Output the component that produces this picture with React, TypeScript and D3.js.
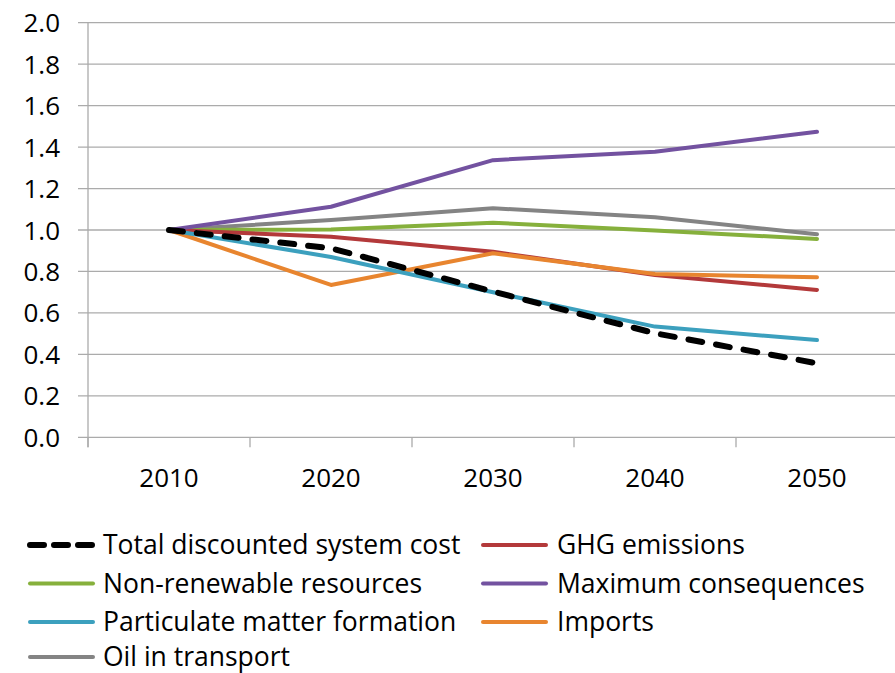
import React, { useEffect, useRef } from "react";
import * as d3 from "d3";

const years = ["2010", "2020", "2030", "2040", "2050"];
const yTicks = [0, 0.2, 0.4, 0.6, 0.8, 1.0, 1.2, 1.4, 1.6, 1.8, 2.0];

const totalCost = [1.0, 0.912, 0.703, 0.502, 0.357];
const ghg = [1.0, 0.968, 0.895, 0.783, 0.711];
const nonRenewable = [1.0, 1.003, 1.035, 0.997, 0.957];
const maxConsequences = [1.0, 1.112, 1.337, 1.378, 1.474];
const particulate = [1.0, 0.87, 0.7, 0.534, 0.469];
const imports = [1.0, 0.735, 0.888, 0.788, 0.772];
const oilTransport = [1.0, 1.048, 1.105, 1.061, 0.979];

const seriesNames = [
  "Total discounted system cost",
  "GHG emissions",
  "Non-renewable resources",
  "Maximum consequences",
  "Particulate matter formation",
  "Imports",
  "Oil in transport",
];
const seriesValues = [totalCost, ghg, nonRenewable, maxConsequences, particulate, imports, oilTransport];
const seriesColors = ["#000000", "#B3393A", "#86B03C", "#7352A0", "#3CA0BE", "#E8852F", "#848484"];

const W = 895;
const H = 673;

export default function App() {
  const ref = useRef<SVGSVGElement | null>(null);

  useEffect(() => {
    const svg = d3.select(ref.current);
    svg.selectAll("*").remove();
    const font = "'Open Sans', 'Noto Sans', sans-serif";

    const left = 88;
    const step = 162;
    const x = d3.scaleBand<string>().domain(years).range([left, left + step * years.length]).paddingInner(0).paddingOuter(0);
    const y = d3.scaleLinear().domain([0, 2]).range([437.3, 22.7]);

    const grid = svg.append("g");
    grid.selectAll("line.h").data(yTicks).join("line")
      .attr("x1", left - 10).attr("x2", W)
      .attr("y1", (d) => y(d)).attr("y2", (d) => y(d))
      .attr("stroke", "#ABABAB").attr("stroke-width", 1.3);
    grid.append("line")
      .attr("x1", left).attr("x2", left)
      .attr("y1", y(2)).attr("y2", y(0) + 10)
      .attr("stroke", "#ABABAB").attr("stroke-width", 1.3);
    const bounds = years.map((d) => x(d) as number).concat([left + step * years.length]);
    grid.selectAll("line.xt").data(bounds).join("line")
      .attr("x1", (d) => d).attr("x2", (d) => d)
      .attr("y1", y(0)).attr("y2", y(0) + 10)
      .attr("stroke", "#ABABAB").attr("stroke-width", 1.3);

    svg.append("g").selectAll("text").data(yTicks).join("text")
      .attr("x", 60).attr("y", (d) => y(d) + 9.5)
      .attr("text-anchor", "end")
      .attr("font-family", font).attr("font-size", 26).attr("fill", "#000")
      .text((d) => d.toFixed(1));

    svg.append("g").selectAll("text").data(years).join("text")
      .attr("x", (d) => (x(d) as number) + step / 2).attr("y", 487)
      .attr("text-anchor", "middle")
      .attr("font-family", font).attr("font-size", 26).attr("fill", "#000")
      .text((d) => d);

    const line = d3.line<number>()
      .x((_, i) => (x(years[i]) as number) + step / 2)
      .y((d) => y(d))
      .curve(d3.curveLinear);

    const order = [6, 2, 1, 3, 5, 4, 0];
    const lines = svg.append("g");
    order.forEach((si) => {
      const isDash = si === 0;
      lines.append("path")
        .attr("d", line(seriesValues[si]) as string)
        .attr("fill", "none")
        .attr("stroke", seriesColors[si])
        .attr("stroke-width", isDash ? 6 : 4)
        .attr("stroke-linecap", "round")
        .attr("stroke-linejoin", "round")
        .attr("stroke-dasharray", isDash ? "14,14" : null);
    });

    const legend = svg.append("g");
    const rowY = [545, 583.5, 622, 657];
    seriesNames.forEach((name, i) => {
      const col = i % 2;
      const row = Math.floor(i / 2);
      const sx = col === 0 ? 30 : 483;
      const tx = col === 0 ? 103 : 557;
      const cy = rowY[row];
      const isDash = i === 0;
      legend.append("line")
        .attr("x1", sx).attr("x2", sx + 63)
        .attr("y1", cy).attr("y2", cy)
        .attr("stroke", seriesColors[i])
        .attr("stroke-width", isDash ? 6 : 4)
        .attr("stroke-linecap", "round")
        .attr("stroke-dasharray", isDash ? "14,10" : null);
      legend.append("text")
        .attr("x", tx).attr("y", cy + 9)
        .attr("font-family", font).attr("font-size", 26.5).attr("fill", "#000")
        .text(name);
    });
  }, []);

  return (
    <svg
      ref={ref}
      width={W}
      height={H}
      style={{ position: "absolute", left: 0, top: 0, background: "#fff", display: "block" }}
    />
  );
}
